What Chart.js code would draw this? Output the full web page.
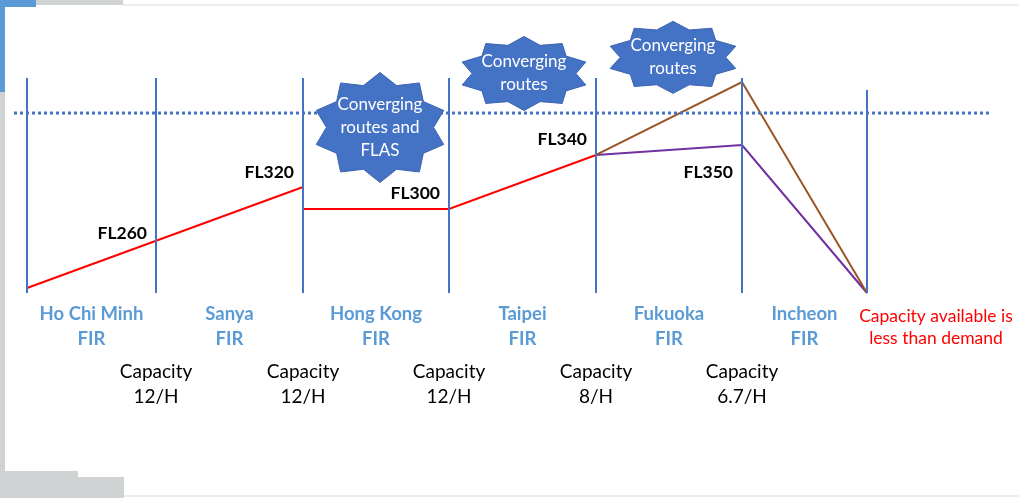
<!DOCTYPE html>
<html>
<head>
<meta charset="utf-8">
<script src="https://cdn.jsdelivr.net/npm/chart.js@4.4.1/dist/chart.umd.min.js"></script>
<style>
  html, body { margin:0; padding:0; background:#fff; }
  #wrap { position:relative; width:1019px; height:498px; overflow:hidden; background:#fff; }
  canvas { position:absolute; left:0; top:0; }
  .deco { position:absolute; }
</style>
</head>
<body>
<div id="wrap">
  <canvas id="c" width="1019" height="498"></canvas>
  <div class="deco" style="left:0;top:0;width:5px;height:92px;background:#5B9BD5"></div>
  <div class="deco" style="left:0;top:92px;width:5px;height:406px;background:#D0D3D4"></div>
  <div class="deco" style="left:0;top:0;width:36px;height:7px;background:#5B9BD5"></div>
  <div class="deco" style="left:36px;top:0;width:87px;height:5px;background:#D0D3D4"></div>
  <div class="deco" style="left:123px;top:4px;width:896px;height:2px;background:#ECECEC"></div>
  <div class="deco" style="left:5px;top:471px;width:73px;height:27px;background:#D0D3D4"></div>
  <div class="deco" style="left:78px;top:477px;width:46px;height:21px;background:#D0D3D4"></div>
  <div class="deco" style="left:124px;top:495px;width:895px;height:2px;background:#ECEEEE"></div>
</div>
<script>
// ---------------- DATA ----------------
const firNames = ['Ho Chi Minh', 'Sanya', 'Hong Kong', 'Taipei', 'Fukuoka', 'Incheon'];
const firSuffix = 'FIR';
// distance along route of each FIR boundary (relative units)
const boundaryDist = [0, 129, 276, 422, 569, 715, 840];
// height of each boundary marker (relative level units)
const boundaryTop = [100, 100, 100, 100, 100, 100, 94.4];
// capacity at boundaries 1..5
const capacityWord = 'Capacity';
const capacityPerHour = ['12/H', '12/H', '12/H', '8/H', '6.7/H'];
// flight level labels at boundaries 1..5
const flightLevelLabels = ['FL260', 'FL320', 'FL300', 'FL340', 'FL350'];
const flightLevelValues = [27.9, 56.3, 46.5, 71.6, 56.3];
// traffic profiles (relative level units)
const redProfileA = [2.3, 49.3];          // boundaries 0, 2
const redProfileB = [39.1, 39.1, 64.2];   // boundaries 2, 3, 4
const brownProfile = [64.2, 98.1, 0];     // boundaries 4, 5, 6
const purpleProfile = [64.2, 68.8, 0];    // boundaries 4, 5, 6
const capacityLevel = 83.7;               // dotted capacity line
const starLabels = [['Converging', 'routes and', 'FLAS'], ['Converging', 'routes'], ['Converging', 'routes']];
const starDist = [353, 497, 646];
const starLevel = [77, 102.1, 109.6];
const noteLines = ['Capacity available is', 'less than demand'];

// ---------------- STYLE / PLACEMENT ----------------
const BLUE = '#4472C4', RED = '#FF0000', BROWN = '#9A5424', PURPLE = '#7030A0';
const FIRBLUE = '#5B9BD5';
const FONT = 'Lato, "Open Sans", sans-serif';
const place = {
  xMin: -27, xMax: 992, yMin: -95.35, yMax: 136.28,
  dottedFrom: -13, dottedTo: 965,
  starSize: [[134, 110], [130, 74], [132, 72]],
  firLineDy: [21, 46], capLineDy: [79, 104], noteDy: [23, 45], noteDx: 69,
  flGap: 9
};

const pts = (xs, ys) => ys.map((v, i) => ({ x: xs[i], y: v }));

const datasets = [];
boundaryDist.forEach((d, i) => {
  datasets.push({ data: [{ x: d, y: 0 }, { x: d, y: boundaryTop[i] }], borderColor: BLUE, borderWidth: 2 });
});
datasets.push({
  data: [{ x: place.dottedFrom, y: capacityLevel }, { x: place.dottedTo, y: capacityLevel }],
  borderColor: BLUE, borderWidth: 3, borderDash: [3, 3], borderCapStyle: 'butt'
});
datasets.push({ data: pts([boundaryDist[0], boundaryDist[2]], redProfileA), borderColor: RED, borderWidth: 2 });
datasets.push({ data: pts(boundaryDist.slice(2, 5), redProfileB), borderColor: RED, borderWidth: 2 });
datasets.push({ data: pts(boundaryDist.slice(4, 7), brownProfile), borderColor: BROWN, borderWidth: 2 });
datasets.push({ data: pts(boundaryDist.slice(4, 7), purpleProfile), borderColor: PURPLE, borderWidth: 2 });
datasets.forEach(ds => { ds.pointRadius = 0; ds.tension = 0; ds.fill = false; ds.clip = false; });

function starPath(ctx, cx, cy, w, h) {
  const n = 10, inner = 0.8;
  ctx.beginPath();
  for (let k = 0; k < n * 2; k++) {
    const a = -Math.PI / 2 + k * Math.PI / n;
    const r = (k % 2 === 0) ? 1 : inner;
    const px = cx + Math.cos(a) * (w / 2) * r;
    const py = cy + Math.sin(a) * (h / 2) * r;
    if (k === 0) ctx.moveTo(px, py); else ctx.lineTo(px, py);
  }
  ctx.closePath();
}

const annotations = {
  id: 'annotations',
  afterDatasetsDraw(chart) {
    const { ctx } = chart;
    const xs = chart.scales.x, ys = chart.scales.y;
    const base = ys.getPixelForValue(0);
    ctx.save();
    ctx.textBaseline = 'middle';

    // stars
    starLabels.forEach((lines, i) => {
      const cx = xs.getPixelForValue(starDist[i]);
      const cy = ys.getPixelForValue(starLevel[i]);
      const [w, h] = place.starSize[i];
      starPath(ctx, cx, cy, w, h);
      ctx.fillStyle = BLUE; ctx.fill();
      ctx.strokeStyle = '#3A64B0'; ctx.lineWidth = 1; ctx.stroke();
      ctx.fillStyle = '#fff';
      ctx.font = '17px ' + FONT;
      ctx.textAlign = 'center';
      const lh = 23;
      lines.forEach((t, j) => ctx.fillText(t, cx, cy + (j - (lines.length - 1) / 2) * lh));
    });

    // flight level labels
    ctx.fillStyle = '#000';
    ctx.font = 'bold 17.5px ' + FONT;
    ctx.textAlign = 'right';
    flightLevelLabels.forEach((t, i) => {
      const px = xs.getPixelForValue(boundaryDist[i + 1]) - place.flGap;
      ctx.fillText(t, px, ys.getPixelForValue(flightLevelValues[i]));
    });

    // FIR names
    ctx.textAlign = 'center';
    ctx.fillStyle = FIRBLUE;
    ctx.font = 'bold 18.5px ' + FONT;
    firNames.forEach((n, i) => {
      const cx = (xs.getPixelForValue(boundaryDist[i]) + xs.getPixelForValue(boundaryDist[i + 1])) / 2;
      ctx.fillText(n, cx, base + place.firLineDy[0]);
      ctx.fillText(firSuffix, cx, base + place.firLineDy[1]);
    });

    // capacities
    ctx.fillStyle = '#000';
    ctx.font = '19px ' + FONT;
    capacityPerHour.forEach((c, i) => {
      const cx = xs.getPixelForValue(boundaryDist[i + 1]);
      ctx.fillText(capacityWord, cx, base + place.capLineDy[0]);
      ctx.fillText(c, cx, base + place.capLineDy[1]);
    });

    // note
    ctx.fillStyle = RED;
    ctx.font = '17.5px ' + FONT;
    const nx = xs.getPixelForValue(boundaryDist[6]) + place.noteDx;
    noteLines.forEach((t, j) => ctx.fillText(t, nx, base + place.noteDy[j]));
    ctx.restore();
  }
};

new Chart(document.getElementById('c'), {
  type: 'line',
  data: { datasets },
  options: {
    responsive: false,
    animation: false,
    events: [],
    layout: { padding: 0 },
    plugins: { legend: { display: false }, tooltip: { enabled: false } },
    scales: {
      x: { type: 'linear', min: place.xMin, max: place.xMax, display: false },
      y: { type: 'linear', min: place.yMin, max: place.yMax, display: false }
    }
  },
  plugins: [annotations]
});
</script>
</body>
</html>
